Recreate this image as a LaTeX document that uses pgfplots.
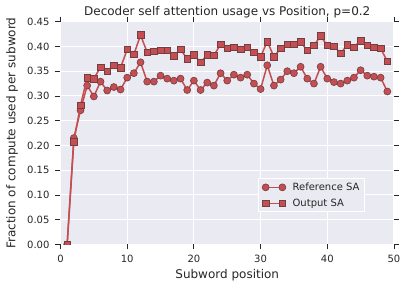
\documentclass[border=0pt]{standalone}
\usepackage{fontspec}
\setmainfont{DejaVu Sans}
\usepackage{pgfplots}
\pgfplotsset{compat=1.18}
\definecolor{bg}{HTML}{EAEAF2}
\definecolor{sred}{HTML}{C44E52}
\definecolor{txt}{HTML}{262626}
\definecolor{medge}{RGB}{115,62,64}
\begin{document}
\begin{tikzpicture}
\begin{axis}[
  width=333.5pt, height=222.8pt, scale only axis,
  xmin=0, xmax=50, ymin=0, ymax=0.45,
  axis background/.style={fill=bg},
  axis line style={draw=none},
  grid=major, major grid style={white, line width=1pt},
  tick align=outside, major tick length=5pt,
  tick style={txt, line width=0.8pt},
  xtick={0,10,20,30,40,50},
  ytick={0,0.05,0.10,0.15,0.20,0.25,0.30,0.35,0.40,0.45},
  /pgf/number format/assume math mode=true,
  ticklabel style={font=\fontsize{10}{12}\selectfont, text=txt},
  xticklabel style={yshift=-2.5pt},
  yticklabel style={xshift=-2.5pt, /pgf/number format/.cd, fixed, fixed zerofill, precision=2},
  every axis x label/.style={at={(axis description cs:0.5,-0.1369)}, anchor=center},
  every axis y label/.style={at={(axis description cs:-0.1454,0.5)}, anchor=center, rotate=90},
  every axis title/.style={at={(axis description cs:0.5,1.0435)}, anchor=center},
  xlabel={Subword position},
  ylabel={Fraction of compute used per subword},
  label style={font=\fontsize{12}{14}\selectfont, text=txt},
  title={Decoder self attention usage vs Position, p=0.2},
  title style={font=\fontsize{12}{14}\selectfont, text=txt},
  clip marker paths=true,
  legend style={at={(0.592,0.298)}, anchor=north west, fill=bg, draw=white, line width=1pt,
    font=\fontsize{10}{12}\selectfont, text=txt, row sep=2.5pt, inner xsep=3pt, inner ysep=2pt,
    nodes={inner sep=2.2pt}},
  legend cell align=left,
  legend image code/.code={\draw[mark repeat=1,mark phase=1] plot coordinates {(0pt,0pt) (16.7pt,0pt)};
    \path (-3.5pt,0pt) (24pt,0pt);},
]
\coordinate (bl) at (axis description cs:-0.1814,-0.2042);
\coordinate (tr) at (axis description cs:1.042,1.0974);
\addplot[sred, line width=1.5pt, mark=*, mark size=3.5pt, mark options={fill=sred, draw=medge, line width=0.6pt}] coordinates {
(1,0.000) (2,0.215) (3,0.271) (4,0.321) (5,0.299) (6,0.329) (7,0.311) (8,0.318) (9,0.313) (10,0.337)
(11,0.346) (12,0.368) (13,0.329) (14,0.329) (15,0.341) (16,0.335) (17,0.331) (18,0.335) (19,0.312) (20,0.331)
(21,0.312) (22,0.327) (23,0.321) (24,0.346) (25,0.331) (26,0.343) (27,0.337) (28,0.343) (29,0.325) (30,0.314)
(31,0.362) (32,0.321) (33,0.333) (34,0.350) (35,0.346) (36,0.359) (37,0.335) (38,0.325) (39,0.359) (40,0.335)
(41,0.328) (42,0.325) (43,0.331) (44,0.337) (45,0.352) (46,0.341) (47,0.339) (48,0.337) (49,0.309)
};
\addlegendentry{Reference SA}
\addplot[sred, line width=1.5pt, mark=square*, mark size=3.3pt, mark options={fill=sred, draw=medge, line width=0.6pt}] coordinates {
(1,0.000) (2,0.208) (3,0.281) (4,0.337) (5,0.335) (6,0.358) (7,0.350) (8,0.362) (9,0.357) (10,0.394)
(11,0.384) (12,0.423) (13,0.388) (14,0.390) (15,0.392) (16,0.392) (17,0.381) (18,0.394) (19,0.375) (20,0.383)
(21,0.368) (22,0.383) (23,0.382) (24,0.404) (25,0.396) (26,0.398) (27,0.394) (28,0.398) (29,0.388) (30,0.379)
(31,0.410) (32,0.379) (33,0.396) (34,0.404) (35,0.404) (36,0.409) (37,0.392) (38,0.402) (39,0.421) (40,0.402)
(41,0.400) (42,0.386) (43,0.403) (44,0.398) (45,0.412) (46,0.402) (47,0.398) (48,0.396) (49,0.370)
};
\addlegendentry{Output SA}
\end{axis}
\pgfresetboundingbox
\path (bl) rectangle (tr);
\end{tikzpicture}
\end{document}
